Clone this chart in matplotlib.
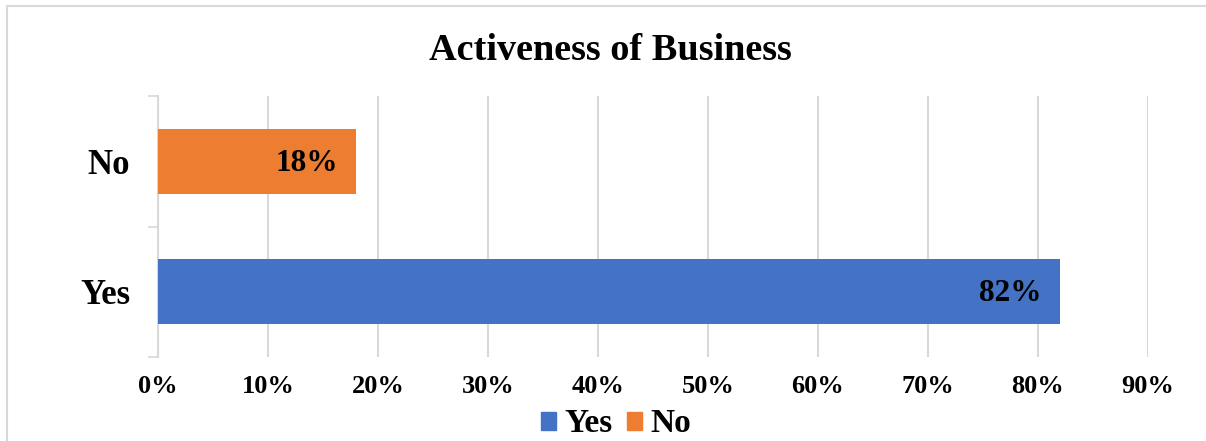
import matplotlib
matplotlib.use("Agg")
import matplotlib.pyplot as plt
from matplotlib.patches import Rectangle
from matplotlib.ticker import FixedLocator

categories = ["Yes", "No"]
values = [82, 18]
colors = ["#4472C4", "#ED7D31"]
xticks = [0, 10, 20, 30, 40, 50, 60, 70, 80, 90]
title = "Activeness of Business"

plt.rcParams["font.family"] = ["Liberation Serif", "DejaVu Serif"]
plt.rcParams["font.weight"] = "bold"

W, H = 1206, 441
fig = plt.figure(figsize=(W / 100, H / 100), dpi=100)

# chart-area border
fig.patches.append(Rectangle((7 / W, -0.1), 1.2, 1 - 6 / H + 0.1,
                             transform=fig.transFigure, fill=False,
                             edgecolor="#d9d9d9", linewidth=1.5))

ax = fig.add_axes([158 / W, 1 - 357 / H, (1148 - 158) / W, (357 - 96) / H])

ypos = list(range(len(categories)))
bars = ax.barh(ypos, values, height=0.5, color=colors, zorder=3)

ax.set_xlim(0, 90)
ax.set_ylim(-0.5, len(categories) - 0.5)
ax.set_xticks(xticks)
ax.set_xticklabels([f"{t}%" for t in xticks], fontsize=19, fontweight="bold")
ax.set_yticks(ypos)
ax.set_yticklabels(categories, fontsize=25, fontweight="bold")
ax.yaxis.set_minor_locator(FixedLocator([-0.5, 0.5, 1.5]))
ax.tick_params(axis="y", which="major", length=0, pad=20)
ax.tick_params(axis="y", which="minor", length=7, width=1.2, color="#d9d9d9")
ax.tick_params(axis="x", length=0, pad=13)

ax.grid(axis="x", color="#d9d9d9", linewidth=1.5, zorder=0)
for s in ["top", "right", "bottom"]:
    ax.spines[s].set_visible(False)
ax.spines["left"].set_color("#d9d9d9")
ax.spines["left"].set_linewidth(1.5)

for b, v in zip(bars, values):
    ax.annotate(f"{v}%", xy=(v, b.get_y() + b.get_height() / 2),
                xytext=(-13, -1.5), textcoords="offset points", ha="right",
                va="center", fontsize=22.5, fontweight="bold", color="black",
                zorder=4)

fig.text(610 / W, 1 - 50 / H, title, ha="center", va="center",
         fontsize=27.5, fontweight="bold")

handles = [Rectangle((0, 0), 1, 1, color=c) for c in colors]
fig.legend(handles, categories, loc="center", bbox_to_anchor=(616 / W, 1 - 424 / H),
           ncol=2, frameon=False, handlelength=0.45, handleheight=0.45,
           handletextpad=0.25, columnspacing=0.45, borderpad=0.2,
           prop={"weight": "bold", "size": 24})

fig.savefig("out.png", dpi=100)
